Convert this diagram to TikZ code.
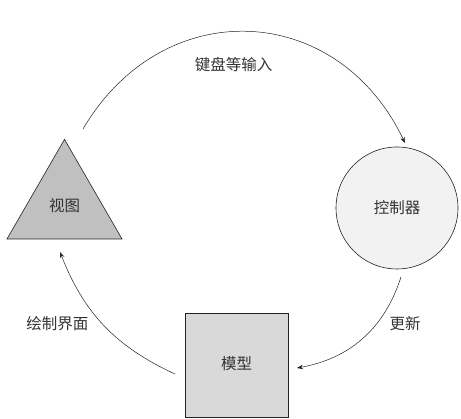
\documentclass[tikz,border=0pt]{standalone}
\usepackage{fontspec}
\setmainfont{Noto Sans CJK SC}
\usetikzlibrary{shapes.geometric,arrows.meta}
\definecolor{txt}{HTML}{333333}
\definecolor{edge}{HTML}{222222}
\tikzset{
  lbl/.style={font=\fontsize{15.5}{16}\selectfont, text=txt, inner sep=0pt},
  shp/.style={draw=edge, line width=0.6pt, inner sep=0pt, outer sep=0pt},
  flow/.style={draw=edge, line width=0.5pt, -{Stealth[length=6pt,width=4.5pt]}}
}
\begin{document}
\begin{tikzpicture}[x=1pt,y=1pt]
\useasboundingbox (0,0) rectangle (461,419);
% shapes
\node[shp, regular polygon, regular polygon sides=3, minimum size=132.8pt, fill={rgb,255:red,192;green,192;blue,192}] (view) at (64.5,213.2) {};
\node[shp, circle, minimum size=122pt, fill={rgb,255:red,242;green,242;blue,242}] (ctrl) at (397,211) {};
\node[shp, rectangle, minimum width=103pt, minimum height=104pt, fill={rgb,255:red,217;green,217;blue,217}] (model) at (236.5,54) {};
% node texts
\node[lbl] (tview) at (64.5,213) {视图};
\node[lbl] (tctrl) at (397,211) {控制器};
\node[lbl] (tmodel) at (236.5,55) {模型};
% connector end points
\coordinate (a1) at (83,290);
\coordinate (b1) at (405,276);
\coordinate (a2) at (401,142);
\coordinate (b2) at (297,51);
\coordinate (a3) at (175,45);
\coordinate (b3) at (60,167);
% connectors
\draw[flow] (a1) to[bend left=62, looseness=1.25] (b1);
\draw[flow] (a2) to[bend left=31] (b2);
\draw[flow] (a3) to[bend left=22] (b3);
% connector labels
\node[lbl] (l1) at (233.5,354) {键盘等输入};
\node[lbl] (l2) at (405,95) {更新};
\node[lbl] (l3) at (57.5,95) {绘制界面};
\end{tikzpicture}
\end{document}
